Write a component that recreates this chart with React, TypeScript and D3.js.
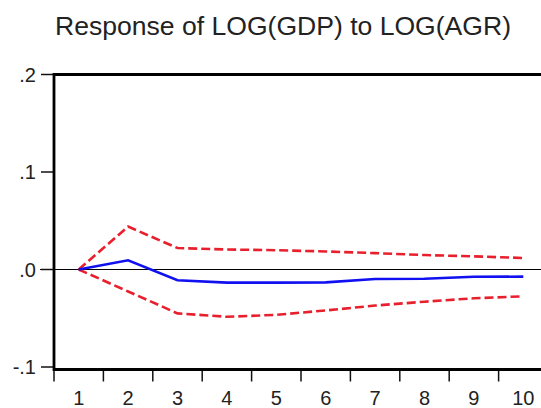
import React from "react";
import * as d3 from "d3";

const periods = [1, 2, 3, 4, 5, 6, 7, 8, 9, 10];
const response = [0.0, 0.0095, -0.011, -0.0135, -0.0135, -0.0132, -0.0098, -0.0095, -0.0075, -0.0073];
const upperBand = [0.0, 0.044, 0.022, 0.0205, 0.0198, 0.0185, 0.0168, 0.0148, 0.0135, 0.0118];
const lowerBand = [0.0, -0.0225, -0.045, -0.0485, -0.0465, -0.042, -0.037, -0.033, -0.0295, -0.0275];
const yTicks = [0.2, 0.1, 0.0, -0.1];
const yTickLabels = [".2", ".1", ".0", "-.1"];
const title = "Response of LOG(GDP) to LOG(AGR)";

const W = 541;
const H = 408;
const left = 54;
const right = 548;
const top = 74.5;
const bottom = 367;

export default function App() {
  const x = d3.scaleBand<number>().domain(periods).range([left, right]).padding(0);
  const y = d3.scaleLinear().domain([-0.1, 0.2]).range([bottom, top]);
  const cx = (p: number) => (x(p) as number) + x.bandwidth() / 2;

  const line = d3
    .line<number>()
    .x((_, i) => cx(periods[i]))
    .y((d) => y(d));

  const frameBottom = y(-0.1) + 2.5;
  const font = "Arial, 'Liberation Sans', sans-serif";

  return (
    <svg
      width={W}
      height={H}
      style={{ position: "absolute", left: 0, top: 0, background: "#fff" }}
    >
      <text
        x={55}
        y={35}
        fontFamily={font}
        fontSize={26}
        fill="#222"
        textLength={456}
        lengthAdjust="spacingAndGlyphs"
      >
        {title}
      </text>

      {/* zero line */}
      <line x1={40} x2={right} y1={y(0)} y2={y(0)} stroke="#000" strokeWidth={1.2} />

      {/* y ticks */}
      {yTicks.map((t, i) => (
        <g key={"yt" + i}>
          <line x1={41} x2={left} y1={y(t)} y2={y(t)} stroke="#111" strokeWidth={1.5} />
          <text
            x={36}
            y={y(t)}
            dy="0.36em"
            textAnchor="end"
            fontFamily={font}
            fontSize={20}
            fill="#222"
          >
            {yTickLabels[i]}
          </text>
        </g>
      ))}

      {/* x ticks at band boundaries */}
      {periods.map((p) => (
        <line
          key={"xt" + p}
          x1={x(p) as number}
          x2={x(p) as number}
          y1={frameBottom}
          y2={frameBottom + 12}
          stroke="#111"
          strokeWidth={1.5}
        />
      ))}
      {periods.map((p) => (
        <text
          key={"xl" + p}
          x={cx(p)}
          y={405}
          textAnchor="middle"
          fontFamily={font}
          fontSize={20}
          fill="#222"
        >
          {p}
        </text>
      ))}

      {/* bands and response */}
      <path
        d={line(upperBand) || ""}
        fill="none"
        stroke="#e8202e"
        strokeWidth={2.6}
        strokeDasharray="9,4"
      />
      <path
        d={line(lowerBand) || ""}
        fill="none"
        stroke="#e8202e"
        strokeWidth={2.6}
        strokeDasharray="9,4"
      />
      <path d={line(response) || ""} fill="none" stroke="#1010f0" strokeWidth={2.6} />

      {/* frame */}
      <path
        d={`M${right},${top} L${left},${top} L${left},${frameBottom} L${right},${frameBottom}`}
        fill="none"
        stroke="#000"
        strokeWidth={2.8}
      />
    </svg>
  );
}
